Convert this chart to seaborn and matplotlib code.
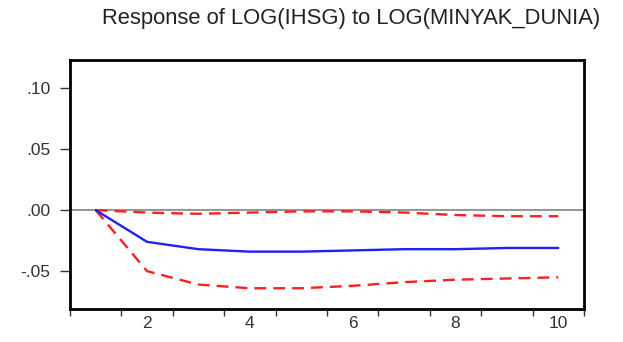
import pandas as pd
import matplotlib.pyplot as plt
import seaborn as sns
from matplotlib.ticker import FixedLocator, NullFormatter

periods = [1, 2, 3, 4, 5, 6, 7, 8, 9, 10]
response = [0.0, -0.026, -0.032, -0.034, -0.034, -0.033, -0.032, -0.032, -0.031, -0.031]
upper_band = [0.0, -0.002, -0.003, -0.002, -0.001, -0.001, -0.002, -0.004, -0.005, -0.005]
lower_band = [0.0, -0.050, -0.061, -0.064, -0.064, -0.062, -0.059, -0.057, -0.056, -0.055]
y_ticks = [-0.05, 0.0, 0.05, 0.10]
y_labels = ['-.05', '.00', '.05', '.10']
x_labels = [2, 4, 6, 8, 10]

sns.set_style('ticks')
plt.rcParams['font.family'] = ['Liberation Sans', 'DejaVu Sans']

df = pd.DataFrame({'period': periods * 3,
                   'value': response + upper_band + lower_band,
                   'series': ['resp'] * 10 + ['upper'] * 10 + ['lower'] * 10})

fig = plt.figure(figsize=(6.23, 3.42), dpi=100)
ax = fig.add_axes([0.1124, 0.0965, 0.825, 0.728])

ax.axhline(0, color='#8c8c8c', lw=1.3, zorder=1)
sns.lineplot(data=df[df.series == 'resp'], x='period', y='value', color='#2020ff',
             lw=1.7, ax=ax, zorder=3)
for s in ['upper', 'lower']:
    sns.lineplot(data=df[df.series == s], x='period', y='value', color='#ff2020',
                 lw=1.7, ax=ax, zorder=2, linestyle=(0, (5, 3)))

ax.set_xlim(0.5, 10.5)
ax.set_ylim(-0.081, 0.123)
ax.set_xlabel('')
ax.set_ylabel('')

# EViews style: ticks between periods, labels centred on periods
ax.xaxis.set_major_locator(FixedLocator([i + 0.5 for i in range(0, 11)]))
ax.xaxis.set_major_formatter(NullFormatter())
for p in x_labels:
    ax.text(p, -0.087, str(p), ha='center', va='top', fontsize=12.5, color='#333333')
ax.tick_params(axis='x', direction='out', length=5, width=1, color='#333333', bottom=True)

ax.set_yticks(y_ticks)
ax.set_yticklabels(y_labels)
ax.tick_params(axis='y', direction='out', length=7, width=1, color='#333333', left=True,
               labelsize=12.5, labelcolor='#333333', pad=7)

for sp in ax.spines.values():
    sp.set_color('black')
    sp.set_linewidth(2)

fig.text(0.563, 0.947, 'Response of LOG(IHSG) to LOG(MINYAK_DUNIA)', ha='center', va='center',
         fontsize=15.8, color='#222222')

fig.savefig('out.png', dpi=100)
